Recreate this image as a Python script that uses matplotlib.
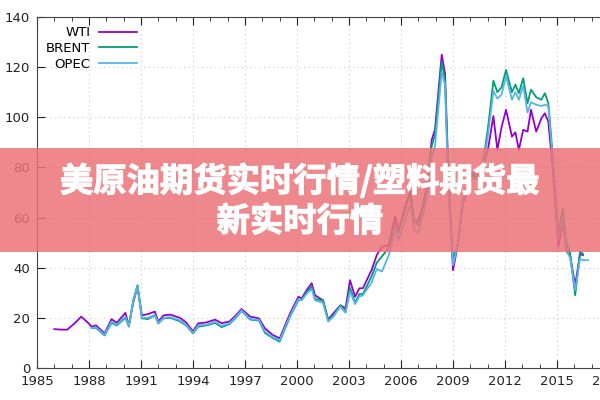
import matplotlib
matplotlib.use('Agg')
import matplotlib.pyplot as plt
import matplotlib.patheffects as pe
from matplotlib.patches import Rectangle
from matplotlib.ticker import MultipleLocator, FixedLocator
import numpy as np

nan = np.nan

# vertex dates (decimal years)
dates = [1986.0, 1986.4, 1986.75, 1987.2, 1987.55, 1987.95, 1988.15, 1988.4, 1988.9,
         1989.3, 1989.6, 1990.1, 1990.3, 1990.55, 1990.8, 1991.05, 1991.4, 1991.8,
         1992.0, 1992.3, 1992.7, 1993.25, 1993.6, 1994.0, 1994.3, 1994.8, 1995.27,
         1995.65, 1996.1, 1996.4, 1996.8, 1997.3, 1997.8, 1998.15, 1998.6, 1999.0,
         1999.6, 2000.08, 2000.27, 2000.6, 2000.85, 2001.04, 2001.5, 2001.8, 2002.1,
         2002.5, 2002.8, 2003.06, 2003.35, 2003.6, 2003.8, 2004.3, 2004.6, 2004.9,
         2005.3, 2005.66, 2005.85, 2006.33, 2006.55, 2006.75, 2007.0, 2007.3, 2007.55,
         2007.77, 2007.96, 2008.35, 2008.54, 2008.75, 2009.0, 2009.3, 2009.55, 2009.8,
         2010.1, 2010.3, 2010.55, 2010.8, 2011.04, 2011.33, 2011.56, 2011.8, 2012.06,
         2012.4, 2012.6, 2012.8, 2013.05, 2013.3, 2013.5, 2013.8, 2014.1, 2014.3,
         2014.5, 2014.75, 2015.08, 2015.33, 2015.55, 2015.75, 2016.05, 2016.33, 2016.5,
         2016.8]

wti = [15.5, 15.3, 15.3, 18.0, 20.5, 18.0, 16.5, 17.0, 13.8,
       19.5, 18.0, 22.0, 17.0, 26.0, 32.5, 21.0, 21.5, 22.5,
       18.5, 21.0, 21.3, 20.0, 18.2, 14.6, 17.8, 18.2, 19.3,
       17.9, 18.5, 20.5, 23.5, 20.5, 19.8, 15.8, 13.2, 11.8,
       21.8, 28.4, 27.8, 31.5, 33.8, 29.0, 27.0, 19.3, 21.8,
       25.0, 23.8, 35.0, 28.4, 31.8, 31.8, 39.0, 45.0, 48.4,
       49.0, 60.4, 55.0, 66.3, 70.5, 58.0, 59.0, 65.0, 75.0,
       91.0, 95.0, 125.0, 117.5, 75.0, 39.0, 50.0, 65.0, 70.0,
       78.0, 76.0, 75.0, 82.0, 88.0, 100.5, 87.0, 96.0, 103.0,
       92.3, 94.0, 87.0, 95.0, 94.3, 103.0, 94.3, 99.6, 101.6,
       98.3, 80.0, 48.5, 58.0, 46.5, 45.0, 33.0, 45.5, 45.0,
       nan]

brent = [nan, nan, nan, nan, nan, nan, 16.0, 16.0, 13.0,
         18.0, 17.0, 20.0, 16.5, 27.0, 33.0, 19.8, 19.5, 21.0,
         17.8, 19.8, 20.0, 18.6, 17.0, 13.8, 16.5, 17.0, 18.0,
         16.3, 17.5, 19.5, 22.8, 19.3, 19.0, 14.0, 12.0, 10.5,
         20.5, 27.0, 27.5, 30.5, 32.5, 27.5, 27.0, 19.0, 21.0,
         25.0, 22.5, 32.0, 26.0, 29.5, 29.5, 36.5, 42.0, 44.5,
         48.0, 58.0, 54.0, 65.5, 69.5, 59.0, 57.0, 66.0, 74.5,
         88.5, 93.0, 122.0, 115.0, 70.0, 43.0, 50.5, 67.0, 72.0,
         76.5, 78.0, 76.0, 85.0, 97.0, 114.6, 110.0, 112.0, 118.9,
         110.0, 113.0, 109.6, 115.6, 105.6, 111.0, 108.0, 107.0, 109.6,
         105.6, 85.0, 54.0, 63.5, 50.0, 46.0, 29.0, 46.5, 45.5,
         nan]

opec = [nan, nan, nan, nan, nan, nan, 16.0, 16.2, 13.3,
        18.5, 17.3, 20.5, 16.8, 26.5, 32.5, 20.0, 20.0, 21.2,
        18.0, 20.0, 20.3, 19.0, 17.3, 14.0, 17.0, 17.3, 18.4,
        16.8, 17.8, 19.8, 23.0, 19.6, 19.2, 14.5, 12.4, 11.0,
        20.8, 27.5, 27.0, 30.0, 31.5, 27.0, 26.0, 18.5, 20.5,
        24.5, 22.0, 30.5, 25.5, 28.5, 29.0, 34.0, 39.5, 38.5,
        45.0, 55.0, 51.0, 61.0, 65.5, 55.0, 54.0, 62.0, 70.0,
        84.0, 88.5, 118.0, 113.0, 68.0, 41.0, 50.0, 66.0, 71.5,
        75.5, 76.0, 74.0, 83.0, 94.0, 110.5, 107.5, 109.0, 116.5,
        107.0, 110.0, 107.0, 112.5, 102.0, 106.0, 105.0, 104.5, 105.0,
        104.5, 83.0, 51.0, 60.0, 47.0, 44.0, 31.0, 43.5, 43.0,
        43.0]

series = [('WTI', wti, '#9400d3'), ('BRENT', brent, '#009e73'), ('OPEC', opec, '#56b4e9')]

year_ticks = list(range(1985, 2019, 3))
title_lines = ['美原油期货实时行情/塑料期货最', '新实时行情']


def main():
    fig = plt.figure(figsize=(6, 4), dpi=100)
    ax = fig.add_axes([37 / 600, 32 / 400, 572 / 600, 351 / 400])

    for name, vals, col in series:
        ax.plot(dates, vals, color=col, lw=1.3, label=name)

    ax.set_xlim(1985, 2018)
    ax.set_ylim(0, 140)
    ax.xaxis.set_major_locator(FixedLocator(year_ticks))
    ax.xaxis.set_minor_locator(MultipleLocator(1))
    ax.yaxis.set_major_locator(MultipleLocator(20))
    ax.tick_params(which='both', direction='in', top=True, right=True,
                   labelsize=9.5, colors='#222222', pad=5)
    ax.tick_params(which='major', length=6)
    ax.tick_params(which='minor', length=3)
    for sp in ax.spines.values():
        sp.set_color('#444444')
    ax.grid(True, which='major', color='#cccccc', ls=(0, (1, 3)), lw=0.8)

    ax.legend(loc='upper left', frameon=False, markerfirst=False, fontsize=9.5,
              handlelength=2.9, handletextpad=0.6, labelspacing=0.2,
              bbox_to_anchor=(0.0, 1.0), borderaxespad=0.3)

    # pink banner with the title text
    fig.patches.append(Rectangle((0, 0.37), 1, 0.26, transform=fig.transFigure,
                                 facecolor=(0.92, 0.45, 0.47), alpha=0.85,
                                 edgecolor='none', zorder=5))
    fam = ['Noto Sans CJK SC', 'DejaVu Sans']
    stroke = [pe.withStroke(linewidth=0.8, foreground='white')]
    for txt, ypx in zip(title_lines, [181, 222]):
        fig.text(0.5, 1 - ypx / 400, txt, ha='center', va='center',
                 fontsize=24, color='white', fontweight='bold', family=fam,
                 zorder=6, path_effects=stroke)

    fig.savefig('out.png', dpi=100)


if __name__ == '__main__':
    main()
